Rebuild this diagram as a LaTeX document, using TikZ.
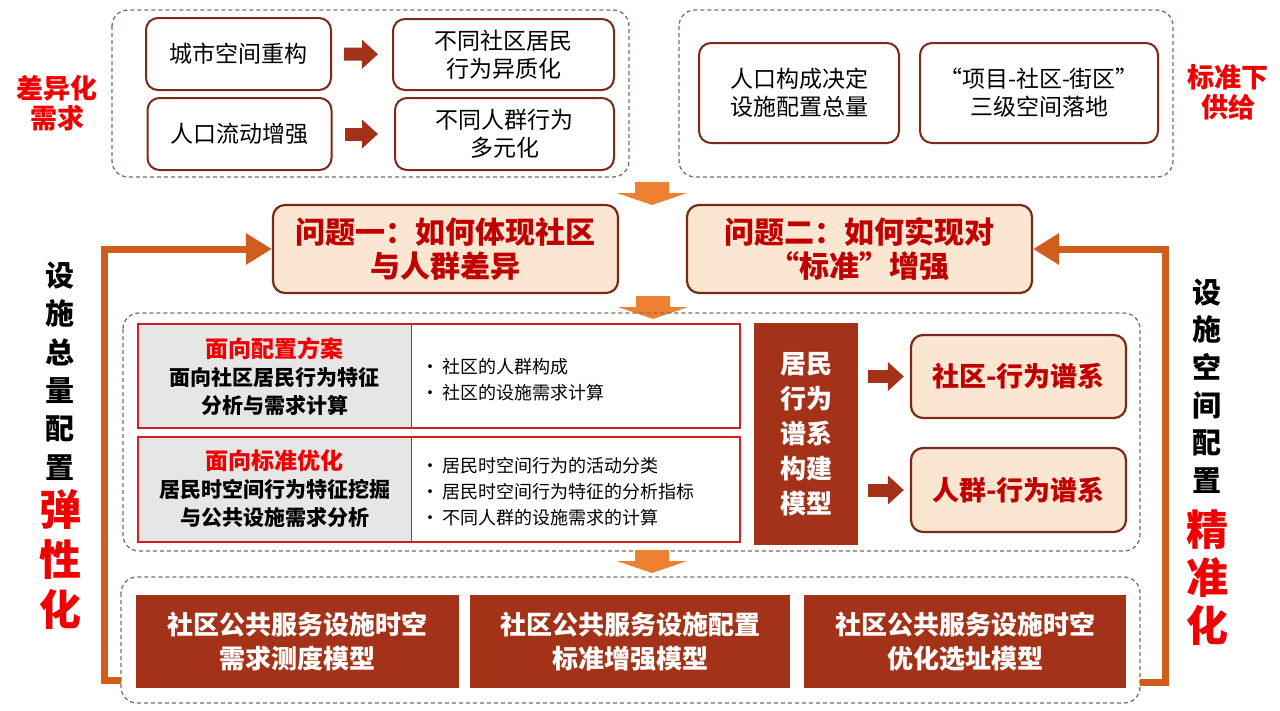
\documentclass[tikz,border=0pt]{standalone}
\usepackage{fontspec}
\newfontfamily\cjk{Noto Sans CJK SC}
\usetikzlibrary{arrows.meta}
\definecolor{brd}{HTML}{7A2A18}
\definecolor{grpc}{HTML}{8A6A60}
\definecolor{beige}{HTML}{FBE6D2}
\definecolor{qred}{HTML}{C00000}
\definecolor{lred}{HTML}{F00000}
\definecolor{dbox}{HTML}{A33218}
\definecolor{rowb}{HTML}{D02020}
\definecolor{rowg}{HTML}{E6E6E6}
\definecolor{aro}{HTML}{EE8130}
\definecolor{fbo}{HTML}{CF5E1C}
\tikzset{
 grp/.style={draw=grpc,line width=1.3pt,dash pattern=on 4pt off 3pt,rounded corners=16pt},
 wbox/.style={draw=brd,line width=2pt,rounded corners=12pt,fill=white,inner sep=0pt,align=center,font=\cjk\fontsize{23}{28}\selectfont},
 qbox/.style={draw=brd,line width=2.2pt,rounded corners=12pt,fill=beige,inner sep=0pt,align=center,text=qred,font=\cjk\bfseries\fontsize{30}{34}\selectfont},
 sbox/.style={qbox,font=\cjk\bfseries\fontsize{27}{32}\selectfont},
 dbx/.style={fill=dbox,inner sep=0pt,align=center,text=white,font=\cjk\bfseries\fontsize{26}{35}\selectfont},
 rowl/.style={inner sep=0pt,align=center,font=\cjk\bfseries\fontsize{21}{28}\selectfont},
 rowr/.style={inner sep=0pt,align=left,anchor=west,font=\cjk\fontsize{18}{26}\selectfont},
 rowline/.style={draw=rowb,line width=2pt},
 barrow/.style={draw=dbox,line width=13pt,-{Triangle[width=28pt,length=16pt]}},
 fb/.style={draw=fbo,line width=7pt,line join=miter,-{Triangle[width=30pt,length=26pt]}},
 vlab/.style={align=center,font=\cjk\bfseries\fontsize{29}{38.4}\selectfont},
 rlab/.style={align=center,text=lred,font=\cjk\bfseries\fontsize{27}{30}\selectfont},
 darr/.pic={\fill[aro] (-17,0)--(17,0)--(17,11)--(35,11)--(0,23)--(-35,11)--(-17,11)--cycle;}
}
\newcommand{\bul}{\makebox[21pt][l]{•}}
\begin{document}
\begin{tikzpicture}[x=1pt,y=-1pt]
\useasboundingbox (0,0) rectangle (1280,710);
% top groups
\draw[grp](112,10) rectangle (629,177);
\draw[grp](679,10) rectangle (1173,177);
\node[wbox,minimum width=185pt,minimum height=72pt] (city) at (238.5,54) {城市空间重构};
\node[wbox,minimum width=184pt,minimum height=72pt] (flow) at (239.5,134) {人口流动增强};
\node[wbox,minimum width=221pt,minimum height=71pt] (hetero) at (503.5,54.5) {不同社区居民\\行为异质化};
\node[wbox,minimum width=219pt,minimum height=72pt] (multi) at (504.5,134) {不同人群行为\\多元化};
\draw[barrow,shorten <=12pt,shorten >=14pt](city)--(hetero);
\draw[barrow,shorten <=12pt,shorten >=16pt](flow)--(multi);
\node[wbox,minimum width=200pt,minimum height=100pt] (total) at (799,93) {人口构成决定\\设施配置总量};
\node[wbox,minimum width=238pt,minimum height=100pt] (level) at (1039,93) {“项目-社区-街区”\\三级空间落地};
\node[rlab] (diff) at (57,103) {差异化\\需求};
\node[rlab] (supply) at (1228,92) {标准下\\供给};
%
\pic at (652,182) {darr};
\node[qbox,minimum width=345pt,minimum height=88pt] (q1) at (445.5,249) {问题一：如何体现社区\\与人群差异};
\node[qbox,minimum width=345pt,minimum height=88pt] (q2) at (859.5,249) {问题二：如何实现对\\“标准”增强};
\pic at (653,296) {darr};
% middle group
\draw[grp](123,313) rectangle (1140,551);
\fill[rowg](138,324) rectangle (411,428);
\draw[rowline](138,324) rectangle (740,428);
\draw[rowb,line width=0.8pt](411,324)--(411,428);
\fill[rowg](138,437) rectangle (411,542);
\draw[rowline](138,437) rectangle (740,542);
\draw[rowb,line width=0.8pt](411,437)--(411,542);
\node[rowl] (plan) at (274.5,377) {{\color{lred}\fontsize{23}{28}\selectfont 面向配置方案}\\面向社区居民行为特征\\分析与需求计算};
\node[rowr] (plani) at (421,380) {\bul 社区的人群构成\\\bul 社区的设施需求计算};
\node[rowl] (std) at (274.5,489) {{\color{lred}\fontsize{23}{28}\selectfont 面向标准优化}\\居民时空间行为特征挖掘\\与公共设施需求分析};
\node[rowr] (stdi) at (421,492) {\bul 居民时空间行为的活动分类\\\bul 居民时空间行为特征的分析指标\\\bul 不同人群的设施需求的计算};
\node[dbx,minimum width=104pt,minimum height=222pt] (model) at (806,434) {居民\\行为\\谱系\\构建\\模型};
\node[sbox,minimum width=215pt,minimum height=83pt] (comm) at (1018.5,376.5) {社区-行为谱系};
\node[sbox,minimum width=215pt,minimum height=84pt] (crowd) at (1018.5,490) {人群-行为谱系};
\draw[barrow,shorten <=10pt,shorten >=6pt](model.east |- comm.west)--(comm.west);
\draw[barrow,shorten <=10pt,shorten >=6pt](model.east |- crowd.west)--(crowd.west);
\pic at (652,550) {darr};
% bottom group
\draw[grp](121,577) rectangle (1140,703);
\node[dbx,minimum width=323pt,minimum height=93pt,font=\cjk\bfseries\fontsize{26}{34}\selectfont] (demand) at (297.5,641.5) {社区公共服务设施时空\\需求测度模型};
\node[dbx,minimum width=320pt,minimum height=93pt,font=\cjk\bfseries\fontsize{26}{34}\selectfont] (enh) at (630,641.5) {社区公共服务设施配置\\标准增强模型};
\node[dbx,minimum width=322pt,minimum height=93pt,font=\cjk\bfseries\fontsize{26}{34}\selectfont] (site) at (965,641.5) {社区公共服务设施时空\\优化选址模型};
% feedback
\coordinate (fbl) at (121,680);
\coordinate (fbr) at (1140,682);
\draw[fb](fbl)--(104,680)|-(q1.west);
\draw[fb](fbr)--(1165,682)|-(q2.east);
\node[vlab] (lv1) at (60,371) {设\\施\\总\\量\\配\\置};
\node[vlab,text=lred,font=\cjk\bfseries\fontsize{42}{50}\selectfont] (lv2) at (60,559) {弹\\性\\化};
\node[vlab,font=\cjk\bfseries\fontsize{29}{37.6}\selectfont] (rv1) at (1207,386) {设\\施\\空\\间\\配\\置};
\node[vlab,text=lred,font=\cjk\bfseries\fontsize{42}{48}\selectfont] (rv2) at (1207,578) {精\\准\\化};
\end{tikzpicture}
\end{document}
